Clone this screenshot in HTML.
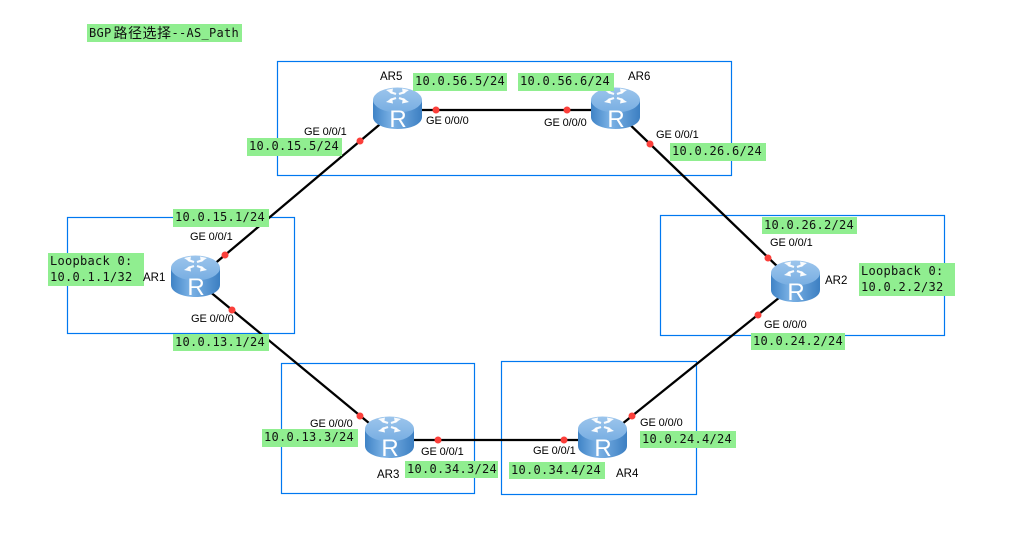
<!DOCTYPE html>
<html><head><meta charset="utf-8">
<style>
html,body{margin:0;padding:0;background:#fff}
#c{position:relative;width:1012px;height:542px;overflow:hidden;background:#fff}
.g{position:absolute;background:#90ee90;font:12px/17px "DejaVu Sans Mono","Liberation Mono",monospace;letter-spacing:.28px;color:#111;white-space:pre;padding-left:2px;box-sizing:border-box}
.g b{font:14px/17px "Noto Sans CJK SC","WenQuanYi Zen Hei",sans-serif;letter-spacing:.5px;vertical-align:-1px}
.t{position:absolute;font:11px/12px "Liberation Sans",sans-serif;letter-spacing:-.1px;color:#000;white-space:pre}
.a{position:absolute;font:11.500px/14px "Liberation Sans",sans-serif;color:#000;white-space:pre}
svg{position:absolute;left:0;top:0}
</style></head><body><div id="c">
<svg width="1012" height="542" viewBox="0 0 1012 542">
<defs>
<linearGradient id="s" x1="0" x2="1" y1="0" y2="0"><stop offset="0" stop-color="#3f83c6"/><stop offset=".4" stop-color="#7db3e6"/><stop offset="1" stop-color="#3c7fc2"/></linearGradient>
<linearGradient id="p" x1="0" x2="0" y1="0" y2="1"><stop offset="0" stop-color="#9cc5ec"/><stop offset="1" stop-color="#78aee2"/></linearGradient>
<g id="r">
<path d="M0 13V30C0 37 11 42 24.500 42S49 37 49 30V13Z" fill="url(#s)"/>
<ellipse cx="24.500" cy="13" rx="24.500" ry="12.500" fill="url(#p)"/>
<g stroke="#fff" stroke-width="2.200" fill="none" opacity=".95">
<path d="M23 7L17 5"/><path d="M26 7L32 5"/><path d="M23 11L17 13"/><path d="M26 11L32 13"/>
</g>
<g fill="#fff" opacity=".95">
<path d="M13 3L20 1.500L19 7Z"/><path d="M36 3L29 1.500L30 7Z"/><path d="M13 15L20 16.500L19 11Z"/><path d="M36 15L29 16.500L30 11Z"/>
</g>
<text x="25" y="40" text-anchor="middle" font-family="Liberation Sans,sans-serif" font-size="24" fill="#fff">R</text>
</g>
</defs>
<g fill="none" stroke="#0078f0" stroke-width="1.200">
<rect x="277.500" y="61.500" width="454" height="114"/>
<rect x="67.500" y="217.500" width="227" height="116"/>
<rect x="660.500" y="215.500" width="284" height="120"/>
<rect x="281.500" y="363.500" width="193" height="130"/>
<rect x="501.500" y="361.500" width="195" height="133"/>
</g>
<g stroke="#000" stroke-width="2.300" fill="none">
<path d="M212 266L385 120"/>
<path d="M415 110H600"/>
<path d="M630 124.700L780 269"/>
<path d="M205 287.600L375 428"/>
<path d="M405 440H585"/>
<path d="M620 425.600L785 293"/>
</g>
<use href="#r" x="373" y="87"/>
<use href="#r" x="591" y="87"/>
<use href="#r" x="171" y="255"/>
<use href="#r" x="771" y="260"/>
<use href="#r" x="365" y="416"/>
<use href="#r" x="578" y="416"/>
<g fill="#fb3f3a">
<circle cx="225" cy="255" r="3.500"/><circle cx="360" cy="141" r="3.500"/>
<circle cx="436" cy="110" r="3.500"/><circle cx="567" cy="110" r="3.500"/>
<circle cx="650" cy="144" r="3.500"/><circle cx="768" cy="258" r="3.500"/>
<circle cx="232" cy="310" r="3.500"/><circle cx="360" cy="416" r="3.500"/>
<circle cx="438" cy="440" r="3.500"/><circle cx="564" cy="440" r="3.500"/>
<circle cx="632" cy="416" r="3.500"/><circle cx="758" cy="315" r="3.500"/>
</g>
</svg>

<div class="g" style="left:87px;top:24px;width:155px;height:18px;line-height:18px">BGP<b style="margin:0 0 0 2px">路径选择</b>--AS_Path</div>

<div class="g" style="left:413px;top:73px;width:94px;height:18px">10.0.56.5/24</div>
<div class="g" style="left:518px;top:73px;width:96px;height:18px">10.0.56.6/24</div>
<div class="g" style="left:247px;top:138px;width:95px;height:18px">10.0.15.5/24</div>
<div class="g" style="left:670px;top:143px;width:96px;height:18px">10.0.26.6/24</div>
<div class="g" style="left:173px;top:209px;width:96px;height:18px">10.0.15.1/24</div>
<div class="g" style="left:173px;top:334px;width:96px;height:17px">10.0.13.1/24</div>
<div class="g" style="left:762px;top:217px;width:95px;height:17px">10.0.26.2/24</div>
<div class="g" style="left:751px;top:333px;width:94px;height:17px">10.0.24.2/24</div>
<div class="g" style="left:262px;top:429px;width:96px;height:18px">10.0.13.3/24</div>
<div class="g" style="left:405px;top:461px;width:93px;height:17px">10.0.34.3/24</div>
<div class="g" style="left:509px;top:462px;width:96px;height:17px">10.0.34.4/24</div>
<div class="g" style="left:640px;top:431px;width:96px;height:17px">10.0.24.4/24</div>
<div class="g" style="left:48px;top:253px;width:96px;height:33px;line-height:16px">Loopback 0:
10.0.1.1/32</div>
<div class="g" style="left:859px;top:263px;width:96px;height:33px;line-height:16px">Loopback 0:
10.0.2.2/32</div>

<div class="a" style="left:380px;top:70px">AR5</div>
<div class="a" style="left:628px;top:70px">AR6</div>
<div class="a" style="left:143px;top:271px">AR1</div>
<div class="a" style="left:825px;top:274px">AR2</div>
<div class="a" style="left:377px;top:468px">AR3</div>
<div class="a" style="left:616px;top:467px">AR4</div>

<div class="t" style="left:304px;top:126px">GE 0/0/1</div>
<div class="t" style="left:426px;top:115px">GE 0/0/0</div>
<div class="t" style="left:544px;top:117px">GE 0/0/0</div>
<div class="t" style="left:656px;top:129px">GE 0/0/1</div>
<div class="t" style="left:190px;top:231px">GE 0/0/1</div>
<div class="t" style="left:191px;top:313px">GE 0/0/0</div>
<div class="t" style="left:770px;top:237px">GE 0/0/1</div>
<div class="t" style="left:764px;top:319px">GE 0/0/0</div>
<div class="t" style="left:310px;top:418px">GE 0/0/0</div>
<div class="t" style="left:421px;top:446px">GE 0/0/1</div>
<div class="t" style="left:533px;top:445px">GE 0/0/1</div>
<div class="t" style="left:640px;top:417px">GE 0/0/0</div>
</div></body></html>
